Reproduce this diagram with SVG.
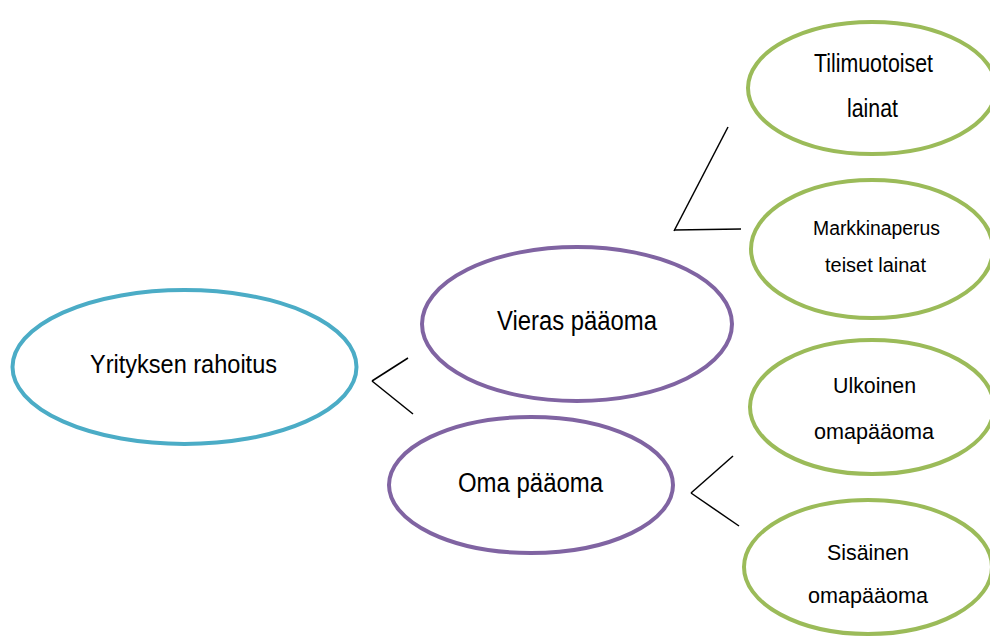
<svg xmlns="http://www.w3.org/2000/svg" width="990" height="637" viewBox="0 0 990 637">
<style>
.n{fill:#ffffff;stroke-width:4}
.blue{stroke:#4bacc6}
.purple{stroke:#8064a2}
.green{stroke:#9bbb59}
.t{font-family:"Liberation Sans",Arial,sans-serif;fill:#000000}
.c line{stroke:#000000;stroke-width:1.5;fill:none}
</style>
<rect width="990" height="637" fill="#ffffff"/>
<g class="c" id="connectors">
<line x1="372" y1="381" x2="408" y2="358"/>
<line x1="372" y1="381" x2="413" y2="414"/>
<line x1="674" y1="231" x2="728" y2="127"/>
<line x1="674" y1="230" x2="741" y2="229"/>
<line x1="691" y1="493" x2="733" y2="456"/>
<line x1="691" y1="493" x2="739" y2="526"/>
</g>
<g id="yrityksen">
<ellipse class="n blue" cx="184.5" cy="367" rx="172" ry="77"/>
<text class="t" x="90" y="373" font-size="25" textLength="187" lengthAdjust="spacingAndGlyphs">Yrityksen rahoitus</text>
</g>
<g id="vieras">
<ellipse class="n purple" cx="577" cy="324" rx="155" ry="77"/>
<text class="t" x="497" y="330" font-size="27" textLength="160" lengthAdjust="spacingAndGlyphs">Vieras pääoma</text>
</g>
<g id="oma">
<ellipse class="n purple" cx="531" cy="485" rx="142" ry="68"/>
<text class="t" x="458" y="492" font-size="27" textLength="145" lengthAdjust="spacingAndGlyphs">Oma pääoma</text>
</g>
<g id="tilimuotoiset">
<ellipse class="n green" cx="872" cy="88" rx="124" ry="66"/>
<text class="t" x="814" y="72" font-size="25" textLength="119" lengthAdjust="spacingAndGlyphs">Tilimuotoiset</text>
<text class="t" x="847" y="117" font-size="25" textLength="51" lengthAdjust="spacingAndGlyphs">lainat</text>
</g>
<g id="markkinaperus">
<ellipse class="n green" cx="872" cy="249" rx="121" ry="69"/>
<text class="t" x="813" y="235" font-size="20" textLength="127" lengthAdjust="spacingAndGlyphs">Markkinaperus</text>
<text class="t" x="825" y="272" font-size="20" textLength="101" lengthAdjust="spacingAndGlyphs">teiset lainat</text>
</g>
<g id="ulkoinen">
<ellipse class="n green" cx="872" cy="407" rx="122" ry="67"/>
<text class="t" x="833" y="393" font-size="22" textLength="83" lengthAdjust="spacingAndGlyphs">Ulkoinen</text>
<text class="t" x="814" y="439" font-size="22" textLength="120" lengthAdjust="spacingAndGlyphs">omapääoma</text>
</g>
<g id="sisainen">
<ellipse class="n green" cx="868" cy="567" rx="124" ry="67"/>
<text class="t" x="827" y="560" font-size="22" textLength="82" lengthAdjust="spacingAndGlyphs">Sisäinen</text>
<text class="t" x="808" y="603" font-size="22" textLength="120" lengthAdjust="spacingAndGlyphs">omapääoma</text>
</g>
</svg>
